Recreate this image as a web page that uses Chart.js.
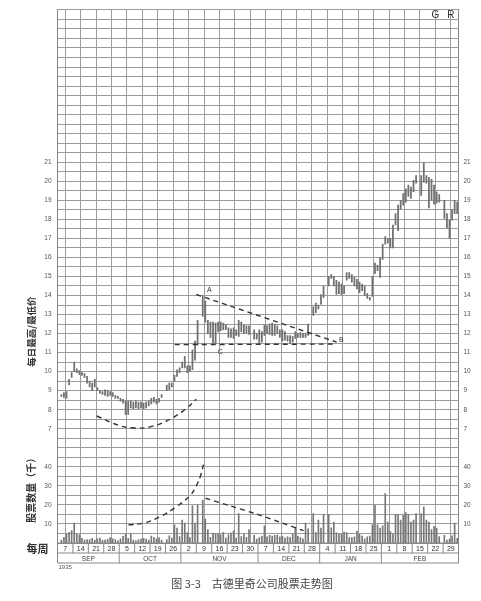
<!DOCTYPE html>
<html>
<head>
<meta charset="utf-8">
<script src="https://cdn.jsdelivr.net/npm/chart.js@4.4.1/dist/chart.umd.min.js"></script>
<style>
  html, body { margin: 0; padding: 0; background: #fff; }
</style>
</head>
<body>
<canvas id="myCanvas" width="481" height="601"></canvas>
<script>
// weekly columns (week ending Saturday), Sep 1935 - Feb 1936
const weekLabels = ["7", "14", "21", "28", "5", "12", "19", "26", "2", "9", "16", "23", "30",
                    "7", "14", "21", "28", "4", "11", "18", "25", "1", "8", "15", "22", "29"];
const months = ["SEP", "OCT", "NOV", "DEC", "JAN", "FEB"];
const monthWeeks = [4, 4, 5, 4, 4, 5];
const priceTicks = [7, 8, 9, 10, 11, 12, 13, 14, 15, 16, 17, 18, 19, 20, 21];
const volTicks = [10, 20, 30, 40];
const priceMin = 1, priceMax = 29;
const volPerPoint = 10; // 10 thousand shares per price point on the shared grid

// six trading days per week (Mon..Sat), null = no trading
const lows = [
  null, 8.7, 8.65, 8.6, 9.3, 9.7,
  10.0, 9.95, 9.85, 9.8, 9.7, 9.4,
  9.2, 9.0, 9.2, 9.0, 8.85, 8.8,
  8.75, 8.7, 8.75, 8.7, 8.6, 8.6,
  8.45, 8.35, 7.75, 7.75, 8.1, 8.05,
  8.1, 8.05, 8.1, 8.05, 8.1, 8.2,
  8.3, 8.4, 8.3, 8.4, 8.65, null,
  9.0, 9.05, 9.2, 9.5, 9.75, 9.95,
  10.2, 10.2, 9.95, 10.0, 10.1, 10.6,
  11.4, null, 12.9, 12.6, 12.0, 11.8,
  11.5, 11.45, 12.1, 12.15, 12.2, 12.2,
  11.8, 11.8, 11.75, 11.9, 11.85, 12.1,
  12.0, 12.05, 11.95, null, 11.7, 11.7,
  11.5, 11.55, 11.9, 12.0, 11.95, 11.9,
  11.9, 12.0, 11.8, 11.6, 11.65, 11.6,
  11.5, 11.55, 11.75, 11.8, 11.8, 11.8,
  11.8, 11.9, null, 12.95, 13.1, 13.3,
  13.55, 13.9, null, 14.5, 14.9, 14.5,
  14.05, 14.1, 14.05, 14.1, 14.8, 14.9,
  14.7, 14.5, 14.35, 14.15, 14.25, 14.0,
  13.85, 13.75, 13.95, 15.15, 15.3, 14.95,
  15.9, 16.7, 16.75, 16.5, 16.5, 17.7,
  17.4, 18.55, 18.75, 18.9, 19.2, 19.1,
  19.45, 19.9, null, 19.25, 19.95, 19.9,
  18.6, 19.0, 18.8, 18.85, 18.9, null,
  18.05, 17.55, 17.0, 17.95, 18.3, 18.3
];
const highs = [
  null, 8.8, 8.9, 8.95, 9.6, 9.95,
  10.5, 10.15, 10.05, 9.95, 9.9, 9.75,
  9.5, 9.4, 9.6, 9.15, 9.0, 8.95,
  9.05, 9.0, 8.95, 8.9, 8.75, 8.7,
  8.6, 8.55, 8.45, 8.45, 8.45, 8.4,
  8.45, 8.4, 8.4, 8.35, 8.4, 8.45,
  8.6, 8.65, 8.55, 8.6, 8.8, null,
  9.3, 9.4, 9.4, 9.8, 10.1, 10.2,
  10.5, 10.8, 10.3, 10.3, 11.15, 11.6,
  12.7, null, 14.0, 13.7, 12.7, 12.6,
  12.6, 12.55, 12.6, 12.6, 12.55, 12.45,
  12.3, 12.25, 12.3, 12.2, 12.7, 12.6,
  12.45, 12.4, 12.4, null, 12.2, 12.0,
  12.2, 12.1, 12.45, 12.4, 12.5, 12.55,
  12.5, 12.4, 12.2, 12.2, 12.1, 11.9,
  11.9, 11.85, 12.1, 12.0, 12.05, 12.0,
  12.0, 12.5, null, 13.4, 13.6, 13.5,
  14.05, 14.5, null, 15.0, 15.1, 15.0,
  14.8, 14.7, 14.6, 14.5, 15.2, 15.2,
  15.1, 14.95, 14.85, 14.7, 14.6, 14.5,
  14.1, 13.9, 15.0, 15.7, 15.6, 16.0,
  16.7, 17.1, 17.0, 17.0, 17.7, 18.3,
  18.75, 19.0, 19.35, 19.6, 19.8, 19.7,
  20.05, 20.3, null, 20.3, 20.95, 20.3,
  20.2, 20.1, 19.8, 19.45, 19.3, null,
  19.0, 18.3, 17.95, 18.5, 19.0, 18.9
];
// daily volume, thousands of shares
const volume = [
  null, 1.5, 3, 4.5, 5.5, 6.5,
  10.5, 4.5, 4.3, 2.5, 1.5, 1.8,
  1.8, 2.5, 1.5, 2.2, 2.6, 1.4,
  1.5, 2.0, 2.8, 2.2, 1.8, 1.2,
  2.2, 3.5, 4.5, 2.5, 4.8, 1.5,
  1.2, 1.8, 2.0, 2.4, 2.0, 1.5,
  3.6, 3.0, 2.2, 2.8, 1.5, null,
  1.8, 3.8, 2.6, 9.5, 7.8, 3.4,
  12, 10.5, 5.5, 2.8, 19.5, 10.5,
  20, null, 22.5, 12.5, 7, 3,
  5.2, 4.8, 4.8, 4.3, 5.5, 2.6,
  4.3, 5.2, 6.4, 2.6, 15.5, 3.4,
  4.5, 3.0, 7.0, null, 4.0, 2.0,
  2.8, 3.6, 9.0, 3.3, 4.0, 3.6,
  4.0, 4.2, 3.3, 3.6, 2.6, 3.3,
  2.8, 4.5, 8.0, 3.6, 2.8, 2.2,
  10.5, 7.5, null, 15.5, 5.5, 12.0,
  7.8, 15.0, null, 15.0, 8.0, 11.0,
  5.3, 4.5, 4.5, 5.7, 5.5, 2.8,
  2.8, 3.3, 6.2, 4.5, 3.6, 2.2,
  3.3, 3.6, 9.5, 19.8, 9.5, 7.8,
  9.0, 26.0, 11.0, 6.0, 4.5, 15.0,
  15.0, 12.0, 14.5, 16.0, 15.0, 11.0,
  12.0, 15.5, null, 15.5, 19.0, 12.0,
  11.0, 7.0, 8.8, 7.8, 3.4, null,
  4.0, 1.5, 2.0, 3.8, 10.5, 2.5
];

// hand-drawn dashed guide lines (x in weeks, y in price / volume)
const bowlX = [2.55, 4.05, 5.0, 6.0, 7.3, 8.4, 9.0];
const bowlY = [7.67, 7.16, 7.04, 7.1, 7.5, 8.1, 8.55];
const topLineX = [9.0, 18.1];
const topLineY = [14.05, 11.55];
const baseLineX = [7.6, 18.1];
const baseLineY = [11.42, 11.45];
const volUpX = [4.6, 5.6, 6.65, 7.7, 8.6, 9.0, 9.3, 9.5];
const volUpY = [9.5, 10.5, 13.8, 19, 25, 30, 36, 42.5];
const volDownX = [9.6, 11.2, 12.8, 14.4, 15.95];
const volDownY = [23.5, 19.5, 15.5, 11, 6.5];

const notes = [
  { text: "A", x: 9.85, y: 14.3 },
  { text: "C", x: 10.55, y: 11.05 },
  { text: "B", x: 18.4, y: 11.68 }
];

const dayX = i => Math.floor(i / 6) + (i % 6 + 0.5) / 6;
const pts = (xs, ys) => xs.map((x, i) => ({ x, y: ys[i] }));

const rangeData = [];
const volData = [];
lows.forEach((lo, i) => {
  if (lo !== null) rangeData.push({ x: dayX(i), y: [lo, highs[i]] });
  if (volume[i] !== null) volData.push({ x: dayX(i), y: volume[i] });
});

const monthStarts = [0];
monthWeeks.forEach(n => monthStarts.push(monthStarts[monthStarts.length - 1] + n));
const monthCenters = months.map((m, i) => (monthStarts[i] + monthStarts[i + 1]) / 2);

const gridColor = "#9c9c9c";
const numFont = "'Liberation Sans', Arial, sans-serif";
const cjkFont = "'Noto Sans CJK SC', sans-serif";

const priceLabel = v => {
  if (priceTicks.includes(v)) return String(v);
  const vol = (v - priceMin) * volPerPoint;
  if (volTicks.includes(Math.round(vol * 100) / 100)) return String(vol);
  return "";
};

const dashed = (data, axis, tension) => ({
  type: "line",
  data,
  yAxisID: axis,
  borderColor: "#333",
  borderWidth: 1.4,
  borderDash: [5, 4],
  pointRadius: 0,
  tension,
  fill: false
});

const decor = {
  id: "decor",
  afterDraw(chart) {
    const { ctx, chartArea: a, scales } = chart;
    const x = scales.x, y = scales.y, rw = scales.xw, rm = scales.xm;
    ctx.save();
    // label rows below the grid
    ctx.strokeStyle = "#888";
    ctx.lineWidth = 1;
    ctx.beginPath();
    [a.bottom, rw.bottom, rm.bottom].forEach(yy => {
      ctx.moveTo(a.left, yy); ctx.lineTo(a.right, yy);
    });
    for (let w = 0; w <= weekLabels.length; w++) {
      const px = x.getPixelForValue(w);
      ctx.moveTo(px, a.bottom); ctx.lineTo(px, rw.bottom);
    }
    monthStarts.forEach(w => {
      const px = x.getPixelForValue(w);
      ctx.moveTo(px, rw.bottom); ctx.lineTo(px, rm.bottom);
    });
    ctx.stroke();

    ctx.fillStyle = "#333";
    ctx.textBaseline = "middle";
    ctx.textAlign = "center";
    ctx.font = "7px " + numFont;
    notes.forEach(n => ctx.fillText(n.text, x.getPixelForValue(n.x), y.getPixelForValue(n.y)));

    ctx.font = "10px " + numFont;
    ctx.fillText("G", x.getPixelForValue(24.5), y.getPixelForValue(28.72));
    ctx.fillText("R", x.getPixelForValue(25.5), y.getPixelForValue(28.72));

    ctx.textAlign = "left";
    ctx.font = "6px " + numFont;
    ctx.fillStyle = "#555";
    ctx.fillText("1935", a.left + 1, rm.bottom + 4);

    ctx.fillStyle = "#333";
    ctx.textAlign = "right";
    ctx.font = "bold 11px " + cjkFont;
    ctx.fillText("每周", a.left - 9, (a.bottom + rw.bottom) / 2 + 1);

    ctx.textAlign = "center";
    ctx.font = "11px " + cjkFont;
    ctx.fillStyle = "#444";
    ctx.fillText("图 3-3　古德里奇公司股票走势图", 252, 584);

    const vtext = (s, px, py, font) => {
      ctx.save();
      ctx.translate(px, py);
      ctx.rotate(-Math.PI / 2);
      ctx.font = font;
      ctx.fillText(s, 0, 0);
      ctx.restore();
    };
    ctx.fillStyle = "#333";
    vtext("每日最高/最低价", 31, y.getPixelForValue(12.1), "bold 9.5px " + cjkFont);
    vtext("股票数量（千）", 31, scales.yv.getPixelForValue(29), "bold 10px " + cjkFont);
    ctx.restore();
  }
};

new Chart(document.getElementById("myCanvas"), {
  type: "bar",
  data: {
    datasets: [
      dashed(pts(bowlX, bowlY), "y", 0.4),
      dashed(pts(topLineX, topLineY), "y", 0),
      dashed(pts(baseLineX, baseLineY), "y", 0),
      dashed(pts(volUpX, volUpY), "yv", 0.4),
      dashed(pts(volDownX, volDownY), "yv", 0.3),
      {
        label: "High / low",
        data: rangeData,
        yAxisID: "y",
        backgroundColor: "#707070",
        barThickness: 1.1,
        grouped: false
      },
      {
        label: "Volume",
        data: volData,
        yAxisID: "yv",
        backgroundColor: "#777",
        barThickness: 1,
        grouped: false
      }
    ]
  },
  options: {
    responsive: false,
    animation: false,
    layout: { padding: { top: 3, bottom: 38, left: 0, right: 0 } },
    plugins: { legend: { display: false }, tooltip: { enabled: false } },
    scales: {
      x: {
        type: "linear", min: 0, max: weekLabels.length, offset: false, weight: 0,
        ticks: { display: false, stepSize: 1 },
        grid: { color: gridColor, lineWidth: 1, drawTicks: false },
        border: { color: "#888" },
        afterFit: s => { s.height = 0; }
      },
      xw: {
        type: "category", labels: weekLabels, position: "bottom", offset: true, weight: 1,
        grid: { display: false, drawTicks: false },
        border: { display: false },
        ticks: { font: { size: 7, family: numFont }, color: "#333", padding: 2, maxRotation: 0, autoSkip: false },
        afterFit: s => { s.height = 10; }
      },
      xm: {
        type: "linear", min: 0, max: weekLabels.length, position: "bottom", offset: false, weight: 2,
        grid: { display: false, drawTicks: false },
        border: { display: false },
        afterBuildTicks: s => { s.ticks = monthCenters.map(v => ({ value: v })); },
        ticks: {
          font: { size: 6.5, family: numFont }, color: "#444", padding: 2, maxRotation: 0, autoSkip: false,
          callback: (v, i) => months[i]
        },
        afterFit: s => { s.height = 10; }
      },
      y: {
        type: "linear", position: "left", min: priceMin, max: priceMax,
        ticks: { stepSize: 0.5, autoSkip: false, callback: priceLabel, font: { size: 6.5, family: numFont }, color: "#555", padding: 6 },
        grid: { color: gridColor, lineWidth: 1, drawTicks: false },
        border: { color: "#888" },
        afterFit: s => { s.width = 57.5; }
      },
      y2: {
        type: "linear", position: "right", min: priceMin, max: priceMax,
        ticks: { stepSize: 0.5, autoSkip: false, callback: priceLabel, font: { size: 6.5, family: numFont }, color: "#555", padding: 5 },
        grid: { display: false, drawTicks: false },
        border: { color: "#888" },
        afterFit: s => { s.width = 22.5; }
      },
      yv: {
        type: "linear", display: false, min: 0, max: (priceMax - priceMin) * volPerPoint
      }
    }
  },
  plugins: [decor]
});
</script>
</body>
</html>
